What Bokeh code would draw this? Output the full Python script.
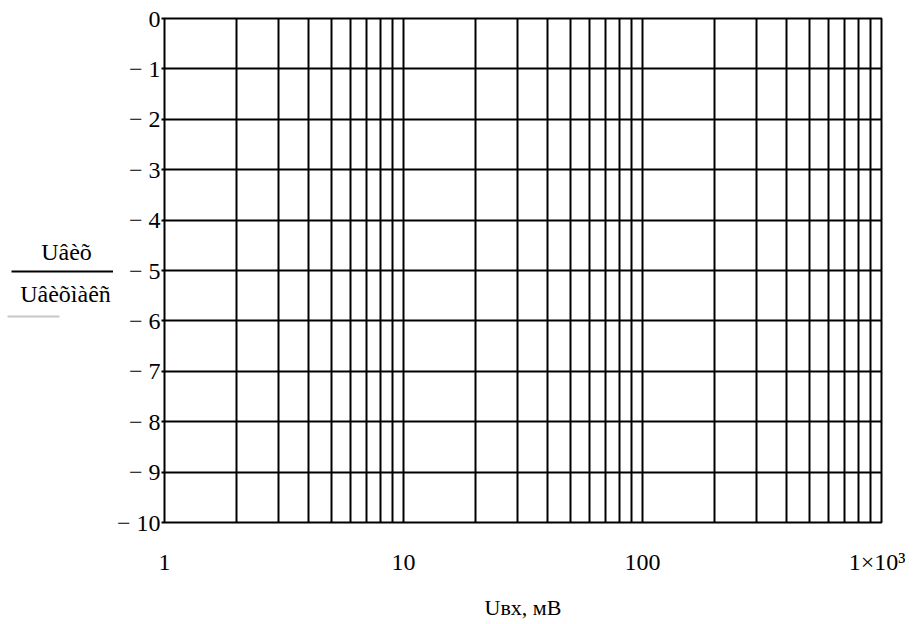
from bokeh.plotting import figure
from bokeh.layouts import row
from bokeh.models import FixedTicker, Range1d
from bokeh.core.properties import value
from bokeh.embed import file_html
from bokeh.resources import INLINE

# --- data ---
x_major = [1, 10, 100, 1000]
x_major_labels = ["1", "10", "100", "1×10³"]
x_grid = [1, 2, 3, 4, 5, 6, 7, 8, 9, 10,
          20, 30, 40, 50, 60, 70, 80, 90, 100,
          200, 300, 400, 500, 600, 700, 800, 900, 1000]
y_ticks = [0, -1, -2, -3, -4, -5, -6, -7, -8, -9, -10]
y_labels = ["0", "− 1", "− 2", "− 3", "− 4", "− 5", "− 6", "− 7", "− 8", "− 9", "− 10"]
y_label_top = "Uâèõ"
y_label_bottom = "Uâèõìàêñ"
x_label = "Uвх, мВ"

FONT = "Liberation Serif"
H = 624
LEFT_W = 113
FRAME_TOP, FRAME_BOTTOM = 18, 522   # frame rows shared by both panels of the row

# ---- left panel carrying the fraction-style y-axis title ----
lp = figure(width=LEFT_W, height=H,
            x_range=Range1d(0, LEFT_W), y_range=Range1d(FRAME_BOTTOM, FRAME_TOP),
            x_axis_location=None, y_axis_location=None,
            output_backend="svg", toolbar_location=None,
            min_border_left=0, min_border_right=0,
            min_border_top=FRAME_TOP, min_border_bottom=H - FRAME_BOTTOM)
lp.grid.visible = False
lp.outline_line_color = None
lp.background_fill_color = "white"
lp.border_fill_color = "white"
lp.text(x=[66, 65], y=[251, 293], text=[y_label_top, y_label_bottom],
        text_align="center", text_baseline="middle",
        text_font=value(FONT), text_font_size="24px", text_color="black")
lp.line(x=[11, LEFT_W], y=[271, 271], line_color="black", line_width=2)
lp.line(x=[7, 59], y=[316, 316], line_color="#c8c8c8", line_width=2)

# ---- main chart ----
p = figure(width=792, height=H, x_axis_type="log",
           x_range=Range1d(1, 1000), y_range=Range1d(-10, 0),
           output_backend="svg", toolbar_location=None,
           min_border_left=51, min_border_right=24,
           min_border_top=FRAME_TOP, min_border_bottom=H - FRAME_BOTTOM)
p.background_fill_color = "white"
p.border_fill_color = "white"
p.outline_line_color = "black"
p.outline_line_width = 2

p.xgrid.ticker = FixedTicker(ticks=x_grid)
p.ygrid.ticker = FixedTicker(ticks=y_ticks)
for g in (p.xgrid, p.ygrid):
    g.grid_line_color = "black"
    g.grid_line_width = 2
    g.grid_line_alpha = 1.0

xa = p.xaxis[0]
xa.ticker = FixedTicker(ticks=x_major)
xa.major_label_overrides = {v: s for v, s in zip(x_major, x_major_labels)}
xa.axis_line_color = None
xa.major_tick_line_color = None
xa.minor_tick_line_color = None
xa.major_label_text_font = FONT
xa.major_label_text_font_size = "24px"
xa.major_label_text_color = "black"
xa.major_label_standoff = 20
xa.axis_label = x_label
xa.axis_label_text_font = FONT
xa.axis_label_text_font_style = "normal"
xa.axis_label_text_font_size = "22px"
xa.axis_label_text_color = "black"
xa.axis_label_standoff = 17

ya = p.yaxis[0]
ya.ticker = FixedTicker(ticks=y_ticks)
ya.major_label_overrides = {v: s for v, s in zip(y_ticks, y_labels)}
ya.axis_line_color = None
ya.major_tick_line_color = "black"
ya.major_tick_line_width = 2
ya.major_tick_in = 0
ya.major_tick_out = 3
ya.minor_tick_line_color = None
ya.major_label_text_font = FONT
ya.major_label_text_font_size = "24px"
ya.major_label_text_color = "black"
ya.major_label_standoff = 1

layout = row(lp, p, spacing=0)
open("out.html", "w").write(file_html(layout, INLINE))
